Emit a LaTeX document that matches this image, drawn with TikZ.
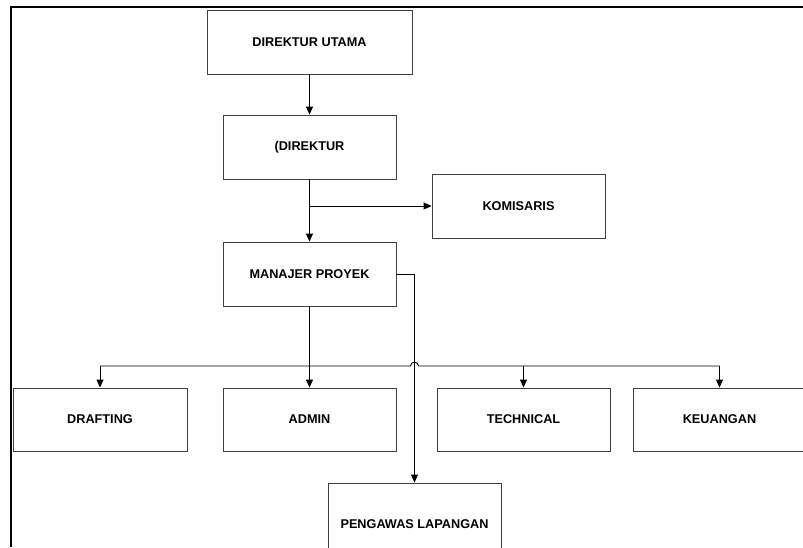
\documentclass[tikz,border=0pt]{standalone}
\usepackage{fontspec}
\setmainfont{Liberation Sans}
\usetikzlibrary{arrows.meta}
\begin{document}
\begin{tikzpicture}[x=1pt,y=-1pt,
  every node/.style={font=\bfseries\fontsize{12.7}{15}\selectfont},
  jabatan/.style={draw=black!75,line width=0.9pt,minimum width=173pt,minimum height=64pt,inner sep=0pt},
  garis/.style={line width=0.9pt},
  panah/.style={garis,-{Triangle[length=8pt,width=7pt]}}]
  \useasboundingbox (0,0) rectangle (803,547);
  \draw[line width=2pt] (803,7) -- (11,7) -- (11,547);
  \node[jabatan,minimum width=205pt] (utama) at (309.5,42) {DIREKTUR UTAMA};
  \node[jabatan] (direktur) at (309.5,147) {(DIREKTUR};
  \node[jabatan] (komisaris) at (518.5,206) {KOMISARIS};
  \node[jabatan] (manajer) at (309.5,274) {MANAJER PROYEK};
  \node[jabatan,minimum width=174pt,minimum height=63pt] (drafting) at (100,419.5) {DRAFTING};
  \node[jabatan,minimum height=63pt] (admin) at (309.5,419.5) {ADMIN};
  \node[jabatan,minimum height=63pt] (technical) at (523.5,419.5) {TECHNICAL};
  \node[jabatan,minimum height=63pt] (keuangan) at (719.5,419.5) {KEUANGAN};
  \node[jabatan,minimum height=82pt] (pengawas) at (414.5,524) {PENGAWAS LAPANGAN};
  \coordinate (bus) at (309.5,366);
  \coordinate (cabang) at (direktur.south |- komisaris.west);
  % garis komando
  \path (utama) edge[panah] (direktur);
  \path (direktur) edge[panah] (manajer);
  \path (cabang) edge[panah] (komisaris);
  \draw[panah] (manajer.east) -| (pengawas.north);
  \path (manajer) edge[panah] (admin);
  \draw[garis] (drafting.north |- bus) -- ([xshift=-4pt]pengawas.north |- bus)
    arc[start angle=180,end angle=0,radius=4pt] -- (keuangan.north |- bus);
  \path (drafting.north |- bus) edge[panah] (drafting.north);
  \path (technical.north |- bus) edge[panah] (technical.north);
  \path (keuangan.north |- bus) edge[panah] (keuangan.north);
\end{tikzpicture}
\end{document}
